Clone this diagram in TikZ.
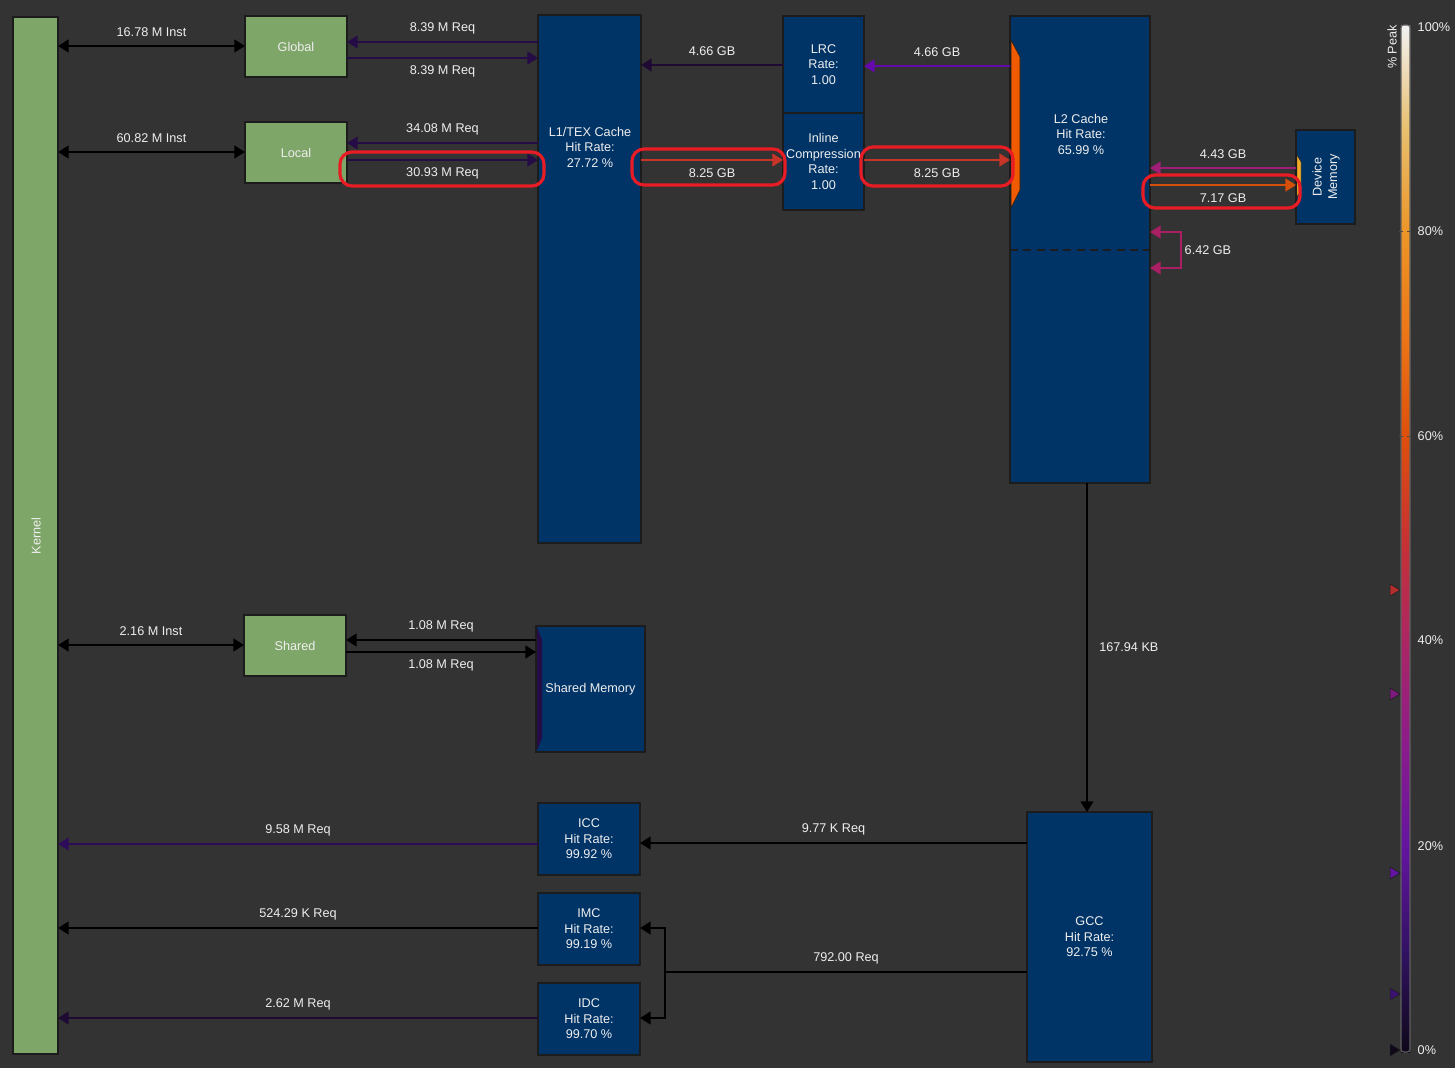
\documentclass[tikz,border=0pt]{standalone}
\usepackage{fontspec}
\setmainfont{Liberation Sans}
\usetikzlibrary{arrows.meta}
\definecolor{bg}{RGB}{51,51,51}
\definecolor{txt}{RGB}{238,238,238}
\definecolor{edge}{RGB}{28,28,28}
\definecolor{grn}{RGB}{127,166,105}
\definecolor{nblue}{RGB}{0,51,102}
\definecolor{cDark}{RGB}{38,12,70}
\definecolor{cDark2}{RGB}{30,10,50}
\definecolor{cPurp}{RGB}{100,10,170}
\definecolor{cRed}{RGB}{200,52,40}
\definecolor{cMag}{RGB}{160,30,120}
\definecolor{cOrg}{RGB}{212,80,10}
\definecolor{cLoop}{RGB}{170,30,100}
\definecolor{cICC}{RGB}{45,12,90}
\definecolor{hilite}{RGB}{232,28,36}
\definecolor{trapO}{RGB}{240,90,0}
\definecolor{trapY}{RGB}{240,170,40}
\definecolor{h0}{RGB}{15,8,25}
\definecolor{h10}{RGB}{50,18,100}
\definecolor{h20}{RGB}{100,20,160}
\definecolor{h30}{RGB}{140,28,140}
\definecolor{h40}{RGB}{172,38,100}
\definecolor{h50}{RGB}{200,50,50}
\definecolor{h60}{RGB}{222,80,12}
\definecolor{h70}{RGB}{236,118,22}
\definecolor{h80}{RGB}{236,150,40}
\definecolor{h90}{RGB}{232,192,112}
\definecolor{h100}{RGB}{242,242,242}
\pgfdeclareverticalshading{heat}{100bp}{color(0bp)=(h0); color(25bp)=(h0); color(30bp)=(h10); color(35bp)=(h20); color(40bp)=(h30); color(45bp)=(h40); color(50bp)=(h50); color(55bp)=(h60); color(60bp)=(h70); color(65bp)=(h80); color(70bp)=(h90); color(75bp)=(h100); color(100bp)=(h100)}
\tikzset{
  every node/.style={font=\fontsize{9.5}{11.6}\selectfont, text=txt},
  box/.style={draw=edge, line width=1.3pt, inner sep=0pt, outer sep=0pt},
  gbox/.style={box, fill=grn},
  bbox/.style={box, fill=nblue},
  arr/.style={line width=1.7pt, -{Triangle[length=8pt,width=9.5pt]}},
  darr/.style={line width=1.7pt, {Triangle[length=8pt,width=9.5pt]}-{Triangle[length=8pt,width=9.5pt]}},
  lbA/.style={midway, yshift=10.5pt, draw=none, fill=none},
  lbB/.style={midway, yshift=-10pt, draw=none, fill=none},
  hl/.style={draw=hilite, line width=2.4pt, rounded corners=9pt},
  mk/.style={draw=edge, line width=0.4pt}
}
\begin{document}
\begin{tikzpicture}[x=0.75pt,y=-0.75pt]
\fill[bg] (0,0) rectangle (1455,1068);
\useasboundingbox (0,0) rectangle (1455,1068);

% ---- boxes ----
\node[gbox, minimum width=33.75pt, minimum height=777.75pt] (Kernel) at (35.5,535.5) {};
\node[rotate=90] (KernelT) at (36,536) {Kernel};
\node[gbox, minimum width=76.5pt, minimum height=45.75pt] (Global) at (296,46.5) {Global};
\node[gbox, minimum width=76.5pt, minimum height=45.75pt] (Local) at (296,152.5) {Local};
\node[gbox, minimum width=76.5pt, minimum height=45.75pt] (Shared) at (295,645.5) {Shared};

\node[bbox, minimum width=77.25pt, minimum height=396pt] (L1) at (589.5,279) {};
\node[align=center] (L1T) at (590,147) {L1/TEX Cache\\Hit Rate:\\27.72 \%};
\node[bbox, minimum width=60.75pt, minimum height=72.75pt, align=center] (LRC) at (823.5,64.5) {LRC\\Rate:\\1.00};
\node[bbox, minimum width=60.75pt, minimum height=72.75pt, align=center] (Inl) at (823.5,161.5) {Inline\\Compression\\Rate:\\1.00};
\node[bbox, minimum width=105pt, minimum height=350.25pt] (L2) at (1080,249.5) {};
\node[align=center] (L2T) at (1081,134) {L2 Cache\\Hit Rate:\\65.99 \%};
\draw[edge, line width=1pt, dash pattern=on 6pt off 4pt] (L2.west |- 0,250) -- (L2.east |- 0,250);
\fill[trapO, draw=edge, line width=0.4pt] (1011,40) -- (1020,57) -- (1020,190) -- (1011,208) -- cycle;
\node[bbox, minimum width=44.25pt, minimum height=70.5pt] (Dev) at (1325.5,177) {};
\node[rotate=90, align=center] (DevT) at (1326,177) {Device\\Memory};
\fill[trapY, draw=edge, line width=0.3pt] (1297,155) -- (1301,162) -- (1301,190) -- (1297,197) -- cycle;
\node[bbox, minimum width=81.75pt, minimum height=94.5pt] (ShM) at (590.5,689) {Shared Memory};
\fill[cDark] (537,627) -- (542,640) -- (542,738) -- (537,750) -- cycle;
\node[bbox, minimum width=76.5pt, minimum height=54pt, align=center] (ICC) at (589,839) {ICC\\Hit Rate:\\99.92 \%};
\node[bbox, minimum width=76.5pt, minimum height=54pt, align=center] (IMC) at (589,929) {IMC\\Hit Rate:\\99.19 \%};
\node[bbox, minimum width=76.5pt, minimum height=54pt, align=center] (IDC) at (589,1019) {IDC\\Hit Rate:\\99.70 \%};
\node[bbox, minimum width=93.75pt, minimum height=187.5pt, align=center] (GCC) at (1089.5,937) {GCC\\Hit Rate:\\92.75 \%};

% ---- connectors ----
\draw[darr, black] (Kernel.east |- 0,46) -- node[lbA]{16.78 M Inst} (Global.west |- 0,46);
\draw[darr, black] (Kernel.east |- 0,152) -- node[lbA]{60.82 M Inst} (Local.west |- 0,152);
\draw[darr, black] (Kernel.east |- 0,645) -- node[lbA]{2.16 M Inst} (Shared.west |- 0,645);

\draw[arr, cDark] (L1.west |- 0,42) -- node[lbA]{8.39 M Req} (Global.east |- 0,42);
\draw[arr, cDark] (Global.east |- 0,58) -- node[lbB]{8.39 M Req} (L1.west |- 0,58);
\draw[arr, cDark] (L1.west |- 0,143) -- node[lbA]{34.08 M Req} (Local.east |- 0,143);
\draw[arr, cDark] (Local.east |- 0,160) -- node[lbB]{30.93 M Req} (L1.west |- 0,160);

\draw[arr, cDark2] (LRC.west |- 0,65) -- node[lbA]{4.66 GB} (L1.east |- 0,65);
\draw[arr, cPurp] (L2.west |- 0,66) -- node[lbA]{4.66 GB} (LRC.east |- 0,66);
\draw[arr, cRed] (L1.east |- 0,160) -- node[lbB]{8.25 GB} (Inl.west |- 0,160);
\draw[arr, cRed] (Inl.east |- 0,160) -- node[lbB]{8.25 GB} (L2.west |- 0,160);

\draw[arr, cMag] (Dev.west |- 0,168) -- node[lbA]{4.43 GB} (L2.east |- 0,168);
\draw[arr, cOrg] (L2.east |- 0,185) -- node[lbB]{7.17 GB} (Dev.west |- 0,185);
\draw[line width=1.5pt, cLoop, {Triangle[length=8pt,width=9.5pt]}-{Triangle[length=8pt,width=9.5pt]}] (L2.east |- 0,232) -- (1181,232) -- (1181,268) -- (L2.east |- 0,268);
\node[anchor=west] (loopT) at (1180,250) {6.42 GB};

\draw[arr, black] (L2.south -| 1087,0) -- node[midway, anchor=west, xshift=5pt]{167.94 KB} (GCC.north -| 1087,0);

\draw[arr, black] (ShM.west |- 0,640) -- node[lbA]{1.08 M Req} (Shared.east |- 0,640);
\draw[arr, black] (Shared.east |- 0,652) -- node[lbB]{1.08 M Req} (ShM.west |- 0,652);

\draw[arr, cICC] (ICC.west |- 0,844) -- node[lbA]{9.58 M Req} (Kernel.east |- 0,844);
\draw[arr, black] (IMC.west |- 0,928) -- node[lbA]{524.29 K Req} (Kernel.east |- 0,928);
\draw[arr, cDark2] (IDC.west |- 0,1018) -- node[lbA]{2.62 M Req} (Kernel.east |- 0,1018);

\draw[arr, black] (GCC.west |- 0,843) -- node[lbA]{9.77 K Req} (ICC.east |- 0,843);
\coordinate (split) at (665,972);
\draw[line width=1.7pt, black] (GCC.west |- 0,972) -- node[lbA]{792.00 Req} (split);
\draw[arr, black] (split) |- (IMC.east |- 0,928);
\draw[arr, black] (split) |- (IDC.east |- 0,1018);

% ---- highlights ----
\draw[hl] (340,152) rectangle (544,186);
\draw[hl] (632,149) rectangle (785,185);
\draw[hl] (861,147) rectangle (1013,186);
\draw[hl] (1143,175) rectangle (1300,208);

% ---- colour bar ----
\shade[shading=heat] (1401,25) rectangle (1410,1052);
\draw[gray!60!bg, line width=0.8pt, rounded corners=2pt] (1401,25) rectangle (1410,1052);
\draw[black!70, dashed, line width=0.5pt] (1399,231) -- (1414,231);
\draw[black!70, dashed, line width=0.5pt] (1399,436) -- (1414,436);
\node[rotate=90] (peak) at (1392,47) {\% Peak};
\node[anchor=west] (p100) at (1413,27) {100\%};
\node[anchor=west] (p80) at (1413,231) {80\%};
\node[anchor=west] (p60) at (1413,436) {60\%};
\node[anchor=west] (p40) at (1413,640) {40\%};
\node[anchor=west] (p20) at (1413,846) {20\%};
\node[anchor=west] (p0) at (1413,1050) {0\%};
\fill[h50!90!black, mk] (1390,584) -- (1400,590) -- (1390,596) -- cycle;
\fill[h30!90!black, mk] (1390,688) -- (1400,694) -- (1390,700) -- cycle;
\fill[h20, mk] (1390,867) -- (1400,873) -- (1390,879) -- cycle;
\fill[h10!80!h20, mk] (1390,988) -- (1400,994) -- (1390,1000) -- cycle;
\fill[h0, mk] (1390,1044) -- (1400,1050) -- (1390,1056) -- cycle;
\end{tikzpicture}
\end{document}
